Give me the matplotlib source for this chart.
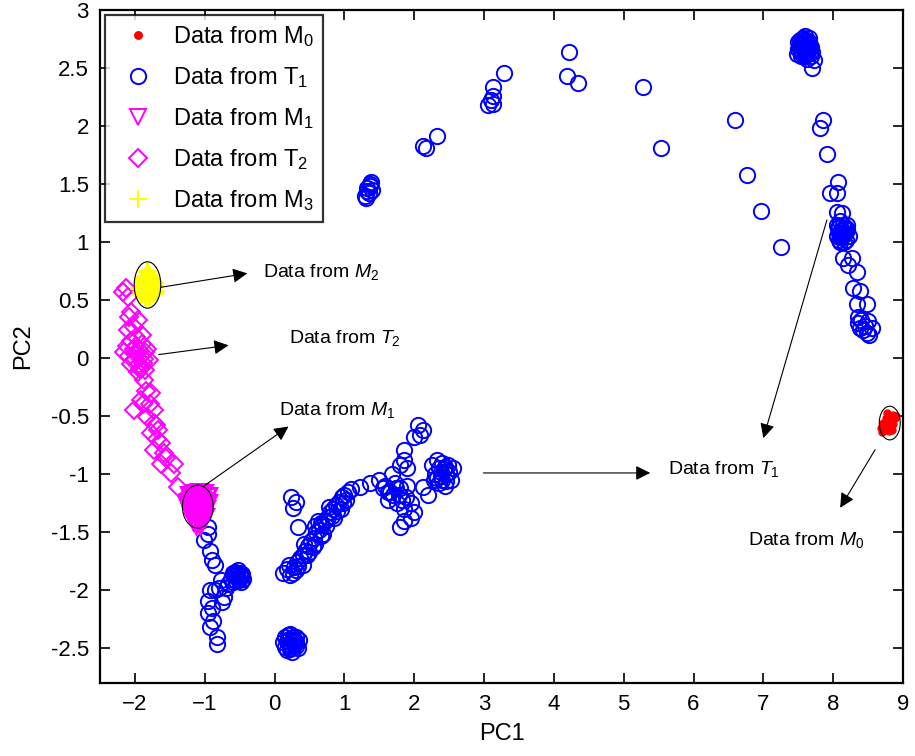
import matplotlib
matplotlib.use('Agg')
import matplotlib.pyplot as plt
from matplotlib.patches import Ellipse

plt.rcParams['font.family'] = ['Liberation Sans', 'DejaVu Sans']
plt.rcParams['mathtext.fontset'] = 'custom'
plt.rcParams['mathtext.rm'] = 'Liberation Sans'
plt.rcParams['mathtext.it'] = 'Liberation Sans:italic'

# scores on the first two principal components
m0_x = [8.68, 8.72, 8.76, 8.80, 8.85, 8.88, 8.74, 8.78, 8.82, 8.86, 8.80, 8.84, 8.70, 8.90, 8.77]
m0_y = [-0.60, -0.56, -0.52, -0.50, -0.49, -0.52, -0.62, -0.58, -0.55, -0.57, -0.63, -0.62, -0.64, -0.50, -0.47]

t1_pts = [
    # upper arc
    (1.30, 1.40), (1.33, 1.44), (1.36, 1.48), (1.38, 1.52), (1.32, 1.47), (1.40, 1.45),
    (1.35, 1.42), (1.37, 1.50), (1.31, 1.38),
    (2.12, 1.83), (2.17, 1.81), (2.33, 1.91),
    (3.06, 2.18), (3.13, 2.19), (3.10, 2.22), (3.13, 2.26), (3.13, 2.34), (3.28, 2.46),
    (4.19, 2.43), (4.21, 2.64), (4.35, 2.37),
    (5.28, 2.34), (5.53, 1.81), (6.60, 2.05), (6.77, 1.58), (6.96, 1.27), (7.25, 0.96),
    (7.50, 2.72), (7.55, 2.75), (7.60, 2.78), (7.65, 2.76), (7.52, 2.66), (7.58, 2.68),
    (7.63, 2.70), (7.68, 2.68), (7.48, 2.62), (7.55, 2.62), (7.62, 2.64), (7.70, 2.64),
    (7.58, 2.72), (7.66, 2.72), (7.52, 2.70), (7.60, 2.60), (7.57, 2.66), (7.64, 2.66),
    (7.72, 2.57), (7.70, 2.50), (7.62, 2.58), (7.68, 2.60),
    (7.53, 2.74), (7.57, 2.70), (7.61, 2.74), (7.55, 2.68), (7.59, 2.64), (7.63, 2.62),
    (7.67, 2.64), (7.50, 2.66), (7.54, 2.60), (7.66, 2.70), (7.61, 2.68), (7.57, 2.76),
    # right branch
    (7.85, 2.05), (7.81, 1.98), (7.91, 1.76), (8.07, 1.52), (7.95, 1.42), (8.05, 1.42),
    (8.05, 1.26), (8.12, 1.25),
    (8.05, 1.15), (8.10, 1.18), (8.15, 1.12), (8.20, 1.10), (8.08, 1.08), (8.13, 1.05),
    (8.18, 1.02), (8.05, 1.05), (8.10, 1.00), (8.22, 1.05), (8.15, 1.00), (8.12, 1.10),
    (8.07, 1.12), (8.20, 1.15),
    (8.09, 1.13), (8.14, 1.15), (8.17, 1.08), (8.11, 1.04), (8.16, 1.06), (8.08, 1.02),
    (8.19, 1.12), (8.13, 1.08),
    (8.14, 0.86), (8.27, 0.86), (8.21, 0.80), (8.34, 0.74), (8.28, 0.60), (8.38, 0.58),
    (8.34, 0.47), (8.48, 0.47),
    (8.35, 0.30), (8.40, 0.33), (8.45, 0.28), (8.50, 0.32), (8.55, 0.26), (8.42, 0.24),
    (8.48, 0.22), (8.38, 0.26), (8.52, 0.20), (8.36, 0.35),
    # lower left branch
    (-0.96, -1.46), (-1.01, -1.57), (-0.92, -1.66), (-0.89, -1.74), (-0.95, -1.52), (-0.85, -1.78),
    (-0.60, -1.85), (-0.52, -1.83), (-0.46, -1.86), (-0.55, -1.92), (-0.48, -1.93), (-0.62, -1.90),
    (-0.50, -1.88), (-0.57, -1.88), (-0.66, -1.95), (-0.45, -1.90),
    (-0.58, -1.87), (-0.53, -1.90), (-0.49, -1.85), (-0.56, -1.84), (-0.51, -1.91), (-0.60, -1.93),
    (-0.47, -1.88), (-0.54, -1.86),
    (-0.77, -1.91), (-0.92, -2.00), (-0.96, -2.09), (-0.73, -2.06), (-0.85, -2.00), (-0.80, -1.98),
    (-0.96, -2.20), (-0.90, -2.15), (-0.92, -2.32), (-0.82, -2.40), (-0.82, -2.46), (-0.88, -2.27),
    (-0.70, -1.98), (-0.75, -2.10),
    (0.23, -1.20), (0.30, -1.24), (0.27, -1.29), (0.34, -1.46),
    (0.15, -2.40), (0.22, -2.38), (0.30, -2.40), (0.35, -2.43), (0.12, -2.45), (0.20, -2.46),
    (0.28, -2.47), (0.33, -2.50), (0.18, -2.52), (0.25, -2.53), (0.20, -2.42), (0.28, -2.43),
    (0.15, -2.49), (0.24, -2.50),
    (0.18, -2.44), (0.26, -2.45), (0.22, -2.48), (0.30, -2.45), (0.19, -2.39), (0.26, -2.40),
    (0.22, -2.51), (0.31, -2.48),
    # rising band
    (0.12, -1.85), (0.18, -1.82), (0.22, -1.87), (0.28, -1.80), (0.32, -1.76), (0.36, -1.72),
    (0.40, -1.70), (0.44, -1.66), (0.48, -1.62), (0.52, -1.58), (0.56, -1.55), (0.60, -1.50),
    (0.64, -1.48), (0.68, -1.44), (0.72, -1.40), (0.76, -1.37), (0.80, -1.33), (0.84, -1.30),
    (0.88, -1.27), (0.92, -1.24), (0.96, -1.20), (1.00, -1.18), (1.05, -1.15), (1.10, -1.13),
    (0.40, -1.78), (0.55, -1.63), (0.70, -1.52), (0.85, -1.38), (0.62, -1.40), (0.78, -1.28),
    (0.30, -1.83), (0.95, -1.30),
    (0.20, -1.78), (0.26, -1.85), (0.34, -1.79), (0.46, -1.70), (0.50, -1.67), (0.58, -1.60),
    (0.66, -1.53), (0.74, -1.45), (0.82, -1.36), (0.90, -1.32), (0.98, -1.25), (1.03, -1.22),
    (0.58, -1.45), (0.66, -1.42), (0.42, -1.60),
    (1.23, -1.11), (1.37, -1.08),
    (1.50, -1.05), (1.58, -1.10), (1.65, -1.15), (1.72, -1.08), (1.80, -1.12), (1.88, -1.20),
    (1.62, -1.22), (1.75, -1.25), (1.85, -1.30), (1.95, -1.25), (1.68, -1.00), (1.90, -1.10),
    (1.70, -1.18), (1.78, -1.18), (1.62, -1.15), (1.74, -1.12), (1.82, -1.22), (1.55, -1.12),
    (1.85, -1.40), (1.80, -1.46), (1.95, -1.38), (1.99, -1.33),
    (1.85, -0.88), (1.85, -0.79), (1.90, -0.95), (1.99, -0.68), (2.06, -0.58), (2.13, -0.62),
    (2.08, -0.66), (1.80, -0.92),
    (2.25, -0.92), (2.32, -0.88), (2.40, -0.90), (2.48, -0.92), (2.55, -0.95), (2.30, -1.00),
    (2.38, -1.02), (2.46, -1.00), (2.52, -1.05), (2.35, -1.08), (2.44, -1.10), (2.28, -1.05),
    (2.42, -0.96), (2.13, -1.11), (2.20, -1.18),
    (2.36, -0.95), (2.44, -0.94), (2.40, -1.05), (2.50, -0.98), (2.33, -1.03), (2.46, -1.06),
    (2.38, -0.98),
]
t1_x = [p[0] for p in t1_pts]
t1_y = [p[1] for p in t1_pts]

m1_x = [-1.22, -1.15, -1.08, -1.01, -0.96, -1.24, -1.18, -1.12, -1.05, -0.99, -1.22, -1.16,
        -1.10, -1.04, -0.98, -1.20, -1.14, -1.08, -1.02, -1.17, -1.11, -1.05, -1.13, -1.07,
        -1.19, -1.09, -1.03, -1.26, -0.95, -1.12, -1.06, -1.15, -1.21, -1.00, -1.10, -1.14,
        -1.07, -1.19, -1.03]
m1_y = [-1.18, -1.16, -1.15, -1.16, -1.19, -1.24, -1.22, -1.21, -1.21, -1.24, -1.30, -1.28,
        -1.27, -1.27, -1.30, -1.35, -1.34, -1.33, -1.34, -1.40, -1.39, -1.39, -1.44, -1.44,
        -1.20, -1.19, -1.31, -1.27, -1.25, -1.36, -1.22, -1.31, -1.33, -1.37, -1.24, -1.25,
        -1.30, -1.29, -1.23]

t2_x = [-2.17, -2.10, -2.13, -2.09, -1.96, -2.10, -2.02, -2.05, -1.98,
        -2.12, -2.05, -1.98, -1.90, -2.08, -2.00, -1.92, -1.85, -2.05, -1.96, -1.88, -1.80,
        -1.95, -1.85, -2.15, -1.90, -1.82, -2.02, -1.94, -1.87, -2.00, -1.93,
        -1.87, -1.92, -1.77, -2.02, -1.73, -1.82, -1.88, -1.78, -1.67, -1.77, -1.72, -1.63,
        -1.73, -1.68, -1.59, -1.63, -1.44, -1.49, -1.39, -1.55, -1.84, -1.70]
t2_y = [0.57, 0.53, 0.60, 0.35, 0.33, 0.24, 0.27, 0.40, 0.18,
        0.10, 0.15, 0.10, 0.12, 0.02, 0.04, 0.02, 0.05, -0.05, -0.06, -0.04, -0.02,
        -0.12, -0.10, 0.05, 0.20, 0.08, 0.08, 0.07, -0.01, -0.01, -0.09,
        -0.19, -0.36, -0.30, -0.45, -0.45, -0.51, -0.40, -0.40, -0.62, -0.65, -0.56, -0.73,
        -0.79, -0.70, -0.82, -0.91, -0.91, -0.99, -1.11, -0.86, -0.28, -0.58]

m3_x = [-1.92, -1.86, -1.80, -1.74, -1.90, -1.84, -1.78, -1.72, -1.88, -1.82, -1.76, -1.86,
        -1.80, -1.94, -1.71, -1.83, -1.77, -1.89, -1.91, -1.79, -1.85, -1.81, -1.75, -1.87,
        -1.83, -1.78, -1.82, -1.88, -1.76, -1.84, -1.79, -1.73, -1.90]
m3_y = [0.55, 0.53, 0.53, 0.56, 0.61, 0.60, 0.60, 0.62, 0.67, 0.66, 0.67, 0.71,
        0.72, 0.60, 0.58, 0.57, 0.64, 0.64, 0.57, 0.69, 0.56, 0.63, 0.60, 0.69,
        0.69, 0.65, 0.75, 0.59, 0.58, 0.63, 0.55, 0.65, 0.66]

fig = plt.figure(figsize=(9.15, 7.56), dpi=100)
ax = fig.add_axes([0.1093, 0.0966, 0.8776, 0.8902])

ax.plot(m0_x, m0_y, '.', color='red', markersize=10, label='Data from M$_0$')
ax.plot(t1_x, t1_y, 'o', color='blue', mfc='none', markersize=11, mew=1.4, label='Data from T$_1$')
ax.plot(m1_x, m1_y, 'v', color='magenta', mfc='none', markersize=12, mew=2.2, label='Data from M$_1$')
ax.plot(t2_x, t2_y, 'D', color='magenta', mfc='none', markersize=9, mew=1.4, label='Data from T$_2$')
ax.plot(m3_x, m3_y, '+', color='yellow', markersize=13, mew=2.4, label='Data from M$_3$')

# circled groups
for cx, cy, w, h in [(-1.82, 0.63, 0.38, 0.40), (-1.10, -1.28, 0.44, 0.37), (8.81, -0.56, 0.30, 0.29)]:
    ax.add_patch(Ellipse((cx, cy), w, h, fill=False, edgecolor='black', lw=0.8, zorder=5))

arrow = dict(arrowstyle='-|>', color='black', lw=0.8, mutation_scale=22, shrinkA=0, shrinkB=0)
notes = [
    (r'Data from $\mathit{M_2}$', (-1.63, 0.61), (-0.39, 0.73), (-0.17, 0.74)),
    (r'Data from $\mathit{T_2}$', (-1.66, 0.03), (-0.66, 0.11), (0.20, 0.17)),
    (r'Data from $\mathit{M_1}$', (-1.03, -1.11), (0.20, -0.59), (0.07, -0.45)),
    (r'Data from $\mathit{T_1}$', (2.99, -0.99), (5.38, -0.99), (5.64, -0.96)),
    (r'Data from $\mathit{M_0}$', (8.60, -0.79), (8.10, -1.29), (6.78, -1.57)),
]
for txt, start, tip, pos in notes:
    ax.annotate('', xy=tip, xytext=start, arrowprops=arrow, zorder=6)
    ax.text(pos[0], pos[1], txt, fontsize=14, va='center', ha='left')
ax.annotate('', xy=(7.00, -0.69), xytext=(7.91, 1.19), arrowprops=arrow, zorder=6)

ax.set_xlim(-2.5, 9)
ax.set_ylim(-2.8, 3)
ax.set_xticks(range(-2, 10))
ax.set_yticks([-2.5, -2, -1.5, -1, -0.5, 0, 0.5, 1, 1.5, 2, 2.5, 3])
ax.set_yticklabels(['-2.5', '-2', '-1.5', '-1', '-0.5', '0', '0.5', '1', '1.5', '2', '2.5', '3'])
ax.tick_params(direction='in', top=True, right=True, length=7, width=1.2, labelsize=16, pad=8)
for s in ax.spines.values():
    s.set_linewidth(1.6)
ax.set_xlabel('PC1', fontsize=17, labelpad=6)
ax.set_ylabel('PC2', fontsize=17, labelpad=12)

leg = ax.legend(loc='upper left', fontsize=17, frameon=True, fancybox=False, edgecolor='black',
                borderaxespad=0.2, handletextpad=0.5, labelspacing=0.68, borderpad=0.4,
                handlelength=2.0)
for h in leg.legend_handles:
    h.set_markeredgewidth(1.4)
leg.get_frame().set_linewidth(1.6)

fig.savefig('out.png', dpi=100)
